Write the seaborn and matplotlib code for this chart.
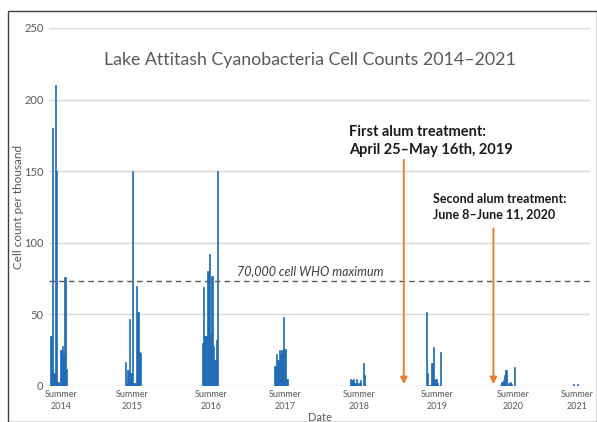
import matplotlib
matplotlib.use("Agg")
import matplotlib.pyplot as plt
import seaborn as sns
import pandas as pd
from matplotlib.patches import Rectangle

# ---- data (sample index along the category axis, cell count per thousand) ----
idx_2014 = list(range(1, 13))
cnt_2014 = [35, 180, 9, 210, 150, 3, 1, 25, 28, 22, 76, 12]
idx_2015 = list(range(54, 66))
cnt_2015 = [17, 2, 11, 47, 9, 150, 2, 2, 70, 52, 24, 23]
idx_2016 = list(range(109, 121))
cnt_2016 = [30, 69, 35, 35, 80, 92, 36, 77, 28, 18, 32, 150]
idx_2017 = list(range(161, 171))
cnt_2017 = [14, 22, 18, 25, 22, 25, 48, 26, 5, 5]
idx_2018 = list(range(215, 226))
cnt_2018 = [5, 4, 5, 2, 5, 0, 2, 4, 0, 16, 8]
idx_2019 = list(range(269, 280))
cnt_2019 = [52, 9, 1, 1, 16, 27, 4, 5, 2, 0, 24]
idx_2020 = list(range(322, 333))
cnt_2020 = [1, 2.5, 4.5, 8, 11, 0, 2, 3, 1.5, 0, 13]
idx_2021 = [374, 377]
cnt_2021 = [1.5, 1.5]

tick_idx = [8, 59, 115, 168, 221, 277, 331, 377]
tick_labels = ["Summer\n2014", "Summer\n2015", "Summer\n2016", "Summer\n2017",
               "Summer\n2018", "Summer\n2019", "Summer\n2020", "Summer\n2021"]
who_max = 73.5
treat1_idx = 253
treat2_idx = 317

df = pd.DataFrame({
    "sample": idx_2014 + idx_2015 + idx_2016 + idx_2017 + idx_2018 + idx_2019 + idx_2020 + idx_2021,
    "count": cnt_2014 + cnt_2015 + cnt_2016 + cnt_2017 + cnt_2018 + cnt_2019 + cnt_2020 + cnt_2021,
})

sns.set_theme(style="white")
plt.rcParams["font.family"] = ["Lato", "DejaVu Sans"]

W, H = 597, 422
fig = plt.figure(figsize=(W / 100, H / 100), dpi=100)
ax = fig.add_axes([49 / W, 1 - 386 / H, (590 - 49) / W, (386 - 28) / H])

blue = "#1F6BB5"
sns.barplot(data=df, x="sample", y="count", native_scale=True, width=1.0,
            color=blue, saturation=1, linewidth=0.5, edgecolor=blue,
            errorbar=None, ax=ax)

ax.set_xlim(-0.5, 386)
ax.set_ylim(0, 250)
ax.set_yticks([0, 50, 100, 150, 200, 250])
ax.yaxis.grid(True, color="#D9D9D9", lw=1)
ax.set_axisbelow(True)
for s in ax.spines.values():
    s.set_visible(False)
ax.tick_params(axis="both", length=0, colors="#595959")
ax.tick_params(axis="y", labelsize=8, pad=4)
ax.set_xticks(tick_idx)
ax.set_xticklabels(tick_labels, fontsize=6.5, linespacing=1.35)
ax.tick_params(axis="x", pad=3)
ax.set_xlabel("Date", fontsize=8, color="#595959", labelpad=1)
ax.set_ylabel("Cell count per thousand", fontsize=8.5, color="#595959")
ax.yaxis.set_label_coords((24 - 49) / (590 - 49), 0.5)

ax.axhline(who_max, color="#595959", lw=1, ls=(0, (4, 3)))
ax.text(134, who_max + 2.5, "70,000 cell WHO maximum", fontsize=9, style="italic",
        color="#404040", ha="left", va="bottom")

orange = "#ED7D31"
for xi, ytop in [(treat1_idx, 158), (treat2_idx, 110)]:
    ax.annotate("", xy=(xi, 1.2), xytext=(xi, ytop),
                arrowprops=dict(arrowstyle="-|>", color=orange, lw=1.4,
                                mutation_scale=10, shrinkA=0, shrinkB=0))

ax.text(214, 171, "First alum treatment:\nApril 25\u2013May 16th, 2019", fontsize=10.5,
        fontweight="bold", color="#1a1a1a", ha="left", va="center", linespacing=1.35)
ax.text(274, 125.5, "Second alum treatment:\nJune 8\u2013June 11, 2020", fontsize=9,
        fontweight="bold", color="#1a1a1a", ha="left", va="center", linespacing=1.3)

fig.text(310 / W, 1 - 60 / H, "Lake Attitash Cyanobacteria Cell Counts 2014\u20132021",
         fontsize=12.8, color="#595959", ha="center", va="center")

fig.patches.append(Rectangle((8 / W, 0), 1 - 8 / W - 0.5 / W, 1 - 11 / H, transform=fig.transFigure,
                             fill=False, edgecolor="#404040", lw=1))

fig.savefig("out.png", dpi=100)
